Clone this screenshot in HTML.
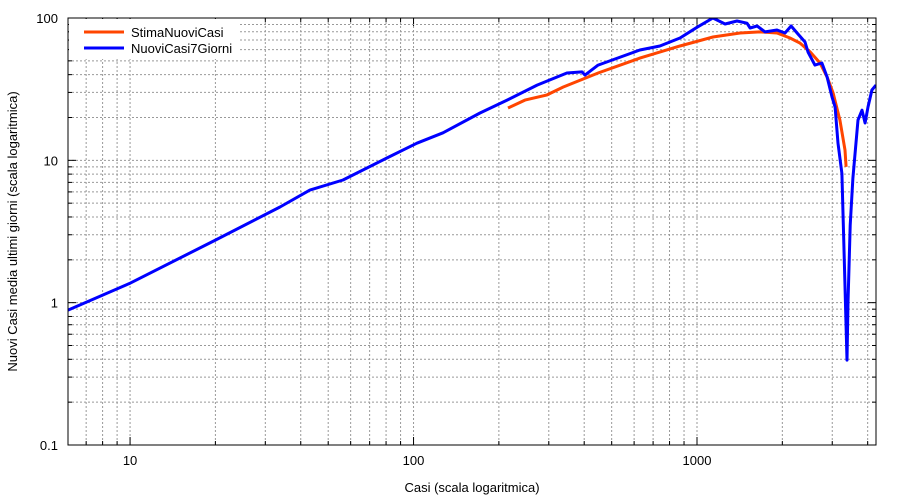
<!DOCTYPE html>
<html><head><meta charset="utf-8"><style>
html,body{margin:0;padding:0;background:#fff;}
svg{display:block;font-family:"Liberation Sans",sans-serif;}
</style></head><body>
<svg id="chart" width="900" height="500"></svg>
<script>
const blueX=[6.04,10,20,33.8,43.1,56.4,80.7,102.8,127,171.6,213.8,272.9,347.5,392.8,402.7,447.9,629,740,871,1000,1138,1256,1384,1501,1539,1629,1738,1915,2043,2148,2254,2405,2464,2606,2759,2876,2993,3069,3143,3245,3290,3382,3410,3470,3548,3698,3819,3917,4010,4140,4280];
const blueY=[0.887,1.37,2.75,4.7,6.18,7.27,10.4,13.2,15.6,21.5,26.5,33.8,41.1,41.8,39.7,46.7,59.6,63.6,72.3,86,100,90.8,95.3,92,85,87.8,79.8,82.3,78.4,87.8,78.4,67.8,57.7,46.7,48.3,38.5,27.9,23.7,13.2,8.1,3.0,0.395,1.0,3.5,7.5,19.2,22.5,18.3,23.7,31.2,33.8];
const orangeX=[215.4,247.3,295.7,336.6,447.9,629,871,1138,1419,1667,1915,2128,2307,2507,2716,2876,3020,3193,3327,3356];
const orangeY=[23.3,26.5,28.8,32.7,41.1,52.3,63.6,73.5,78.4,79.8,78.4,72.3,66.7,57.7,48.3,38.5,29.7,19.2,11.8,9.0];
const xTicks=[10,100,1000];
const xTickLabels=["10","100","1000"];
const yTicks=[0.1,1,10,100];
const yTickLabels=["0.1","1","10","100"];
const L=68,R=876,T=18,B=445;
const xmin=6.04,xmax=4280,ymin=0.1,ymax=100;
const xs=v=>L+(Math.log10(v)-Math.log10(xmin))/(Math.log10(xmax)-Math.log10(xmin))*(R-L);
const ys=v=>B-(Math.log10(v)-Math.log10(ymin))/(Math.log10(ymax)-Math.log10(ymin))*(B-T);
const svg=document.getElementById('chart');
const NS='http://www.w3.org/2000/svg';
function mk(tag,attrs){const e=document.createElementNS(NS,tag);for(const k in attrs)e.setAttribute(k,attrs[k]);svg.appendChild(e);return e;}
for(let d=0;d<=3;d++){for(let m=1;m<10;m++){const v=Math.pow(10,d)*m;if(v<xmin||v>xmax)continue;const x=xs(v);
const g=mk('line',{x1:x,x2:x,y1:T,y2:B,stroke:'#999','stroke-dasharray':'2,2','stroke-width':1});

const t1=mk('line',{x1:x,x2:x,y1:B,y2:B-(m===1?8:4),stroke:'#000'});
const t2=mk('line',{x1:x,x2:x,y1:T,y2:T+(m===1?8:4),stroke:'#000'});}}
for(let d=-1;d<=1;d++){for(let m=1;m<10;m++){const v=Math.pow(10,d)*m;const y=ys(v);if(m===1&&d===-1)continue;
const g=mk('line',{x1:L,x2:R,y1:y,y2:y,stroke:'#999','stroke-dasharray':'2,2','stroke-width':1});

const t1=mk('line',{x1:L,x2:L+(m===1?8:4),y1:y,y2:y,stroke:'#000'});
const t2=mk('line',{x1:R,x2:R-(m===1?8:4),y1:y,y2:y,stroke:'#000'});}}
const lb=mk('rect',{x:L+1,y:T+1,width:170,height:40,fill:'#fff'});

xTicks.forEach((v,i)=>{const t=mk('text',{x:xs(v),y:B+20,'text-anchor':'middle','font-size':13});t.textContent=xTickLabels[i];
});
yTicks.forEach((v,i)=>{const t=mk('text',{x:L-10,y:ys(v)+5,'text-anchor':'end','font-size':13});t.textContent=yTickLabels[i];
});
const xt=mk('text',{x:(L+R)/2,y:492,'text-anchor':'middle','font-size':13});xt.textContent='Casi (scala logaritmica)';

const yt=mk('text',{x:0,y:0,'text-anchor':'middle','font-size':13,transform:'translate(17,'+((T+B)/2)+') rotate(-90)'});yt.textContent='Nuovi Casi media ultimi giorni (scala logaritmica)';

function line(X,Y){return X.map((v,i)=>(i?'L':'M')+xs(v).toFixed(1)+','+ys(Y[i]).toFixed(1)).join(' ');}
const cp=mk('clipPath',{id:'clip'});const cr=document.createElementNS(NS,'rect');cr.setAttribute('x',L);cr.setAttribute('y',T);cr.setAttribute('width',R-L);cr.setAttribute('height',B-T);cp.appendChild(cr);
const po=mk('path',{d:line(orangeX,orangeY),fill:'none',stroke:'#ff4500','stroke-width':3,'clip-path':'url(#clip)'});

const pb=mk('path',{d:line(blueX,blueY),fill:'none',stroke:'#0000ff','stroke-width':3,'clip-path':'url(#clip)','stroke-linejoin':'round'});

const fr=mk('rect',{x:L,y:T,width:R-L,height:B-T,fill:'none',stroke:'#000','stroke-width':1});

const l1=mk('line',{x1:84,x2:124,y1:32,y2:32,stroke:'#ff4500','stroke-width':3});
const lt1=mk('text',{x:131,y:37,'font-size':13});lt1.textContent='StimaNuoviCasi';
const l2=mk('line',{x1:84,x2:124,y1:48,y2:48,stroke:'#0000ff','stroke-width':3});
const lt2=mk('text',{x:131,y:53,'font-size':13});lt2.textContent='NuoviCasi7Giorni';
</script>
</body></html>
